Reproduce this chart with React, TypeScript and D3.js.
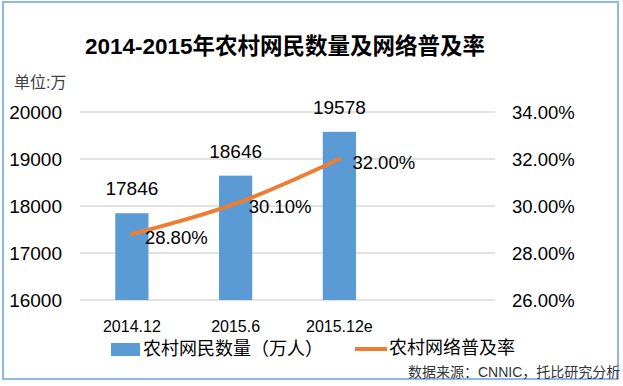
import React, { useRef, useEffect } from 'react';
import * as d3 from 'd3';

// 数据
const categories = ['2014.12', '2015.6', '2015.12e'];
const netizens = [17846, 18646, 19578]; // 万人
const penetration = [28.8, 30.1, 32.0]; // %
const leftTicks = [16000, 17000, 18000, 19000, 20000];
const rightTicks = [26, 28, 30, 32, 34];

const FONT = '"Liberation Sans", "Noto Sans CJK SC", sans-serif';
const BLUE = '#5b9bd5';
const ORANGE = '#ed7d31';

const App = () => {
    const svgRef = useRef<SVGSVGElement>(null);
    const width = 623;
    const height = 386;

    useEffect(() => {
        const svg = d3.select(svgRef.current)
            .attr('width', width)
            .attr('height', height);

        svg.selectAll('*').remove();

        const left = 80, right = 495, top = 112, bottom = 300;
        const step = (right - left) / 4;

        svg.append('rect')
            .attr('width', width).attr('height', height)
            .attr('fill', '#fff');

        // 外框
        svg.append('rect')
            .attr('x', 3).attr('y', 2)
            .attr('width', 615).attr('height', 377)
            .attr('fill', 'none')
            .attr('stroke', '#8db8e8')
            .attr('stroke-width', 2);

        // 标题
        svg.append('text')
            .attr('x', 285).attr('y', 46)
            .attr('text-anchor', 'middle')
            .attr('dominant-baseline', 'central')
            .attr('font-family', FONT)
            .attr('font-weight', 'bold')
            .attr('font-size', 22.5)
            .attr('fill', '#000')
            .text('2014-2015年农村网民数量及网络普及率');

        svg.append('text')
            .attr('x', 14).attr('y', 82)
            .attr('dominant-baseline', 'central')
            .attr('font-family', FONT)
            .attr('font-size', 16)
            .attr('fill', '#404040')
            .text('单位:万');

        const x = d3.scaleBand()
            .domain(categories)
            .range([left, left + step * 3])
            .paddingInner(0.68)
            .paddingOuter(0.34);

        const yLeft = d3.scaleLinear().domain([16000, 20000]).range([bottom, top]);
        const yRight = d3.scaleLinear().domain([26, 34]).range([bottom, top]);

        // 网格线
        svg.append('g')
            .selectAll('line')
            .data(leftTicks)
            .enter()
            .append('line')
            .attr('x1', left).attr('x2', right)
            .attr('y1', d => yLeft(d)).attr('y2', d => yLeft(d))
            .attr('stroke', '#d9d9d9')
            .attr('stroke-width', 1.5);

        // 左轴
        svg.append('g')
            .selectAll('text')
            .data(leftTicks)
            .enter()
            .append('text')
            .attr('x', 62)
            .attr('y', d => yLeft(d))
            .attr('text-anchor', 'end')
            .attr('dominant-baseline', 'central')
            .attr('font-family', FONT)
            .attr('font-size', 19)
            .attr('fill', '#000')
            .text(d => d);

        // 右轴
        svg.append('g')
            .selectAll('text')
            .data(rightTicks)
            .enter()
            .append('text')
            .attr('x', 512)
            .attr('y', d => yRight(d))
            .attr('dominant-baseline', 'central')
            .attr('font-family', FONT)
            .attr('font-size', 18.5)
            .attr('fill', '#000')
            .text(d => d.toFixed(2) + '%');

        // X轴标签
        svg.append('g')
            .selectAll('text')
            .data(categories)
            .enter()
            .append('text')
            .attr('x', d => x(d)! + x.bandwidth() / 2)
            .attr('y', 326)
            .attr('text-anchor', 'middle')
            .attr('dominant-baseline', 'central')
            .attr('font-family', FONT)
            .attr('font-size', 16)
            .attr('fill', '#000')
            .text(d => d);

        // 柱
        svg.append('g')
            .selectAll('rect')
            .data(netizens)
            .enter()
            .append('rect')
            .attr('x', (d, i) => x(categories[i])!)
            .attr('y', d => yLeft(d))
            .attr('width', x.bandwidth())
            .attr('height', d => bottom - yLeft(d))
            .attr('fill', BLUE);

        svg.append('g')
            .selectAll('text')
            .data(netizens)
            .enter()
            .append('text')
            .attr('x', (d, i) => x(categories[i])! + x.bandwidth() / 2)
            .attr('y', d => yLeft(d) - 18)
            .attr('text-anchor', 'middle')
            .attr('font-family', FONT)
            .attr('font-size', 19)
            .attr('fill', '#000')
            .text(d => d);

        // 折线
        const line = d3.line<number>()
            .x((d, i) => x(categories[i])! + x.bandwidth() / 2)
            .y(d => yRight(d))
            .curve(d3.curveCatmullRom.alpha(0.5));

        svg.append('path')
            .datum(penetration)
            .attr('d', line)
            .attr('fill', 'none')
            .attr('stroke', ORANGE)
            .attr('stroke-width', 4)
            .attr('stroke-linecap', 'round');

        svg.append('g')
            .selectAll('text')
            .data(penetration)
            .enter()
            .append('text')
            .attr('x', (d, i) => x(categories[i])! + x.bandwidth() / 2 + 13)
            .attr('y', d => yRight(d) + 3)
            .attr('dominant-baseline', 'central')
            .attr('font-family', FONT)
            .attr('font-size', 18.5)
            .attr('fill', '#000')
            .text(d => d.toFixed(2) + '%');

        // 图例
        const legend = svg.append('g');
        legend.append('rect')
            .attr('x', 111).attr('y', 343)
            .attr('width', 29).attr('height', 13)
            .attr('fill', BLUE);
        legend.append('text')
            .attr('x', 143).attr('y', 349)
            .attr('dominant-baseline', 'central')
            .attr('font-family', FONT)
            .attr('font-size', 18)
            .attr('fill', '#000')
            .text('农村网民数量（万人）');
        legend.append('line')
            .attr('x1', 355).attr('x2', 387)
            .attr('y1', 349).attr('y2', 349)
            .attr('stroke', ORANGE)
            .attr('stroke-width', 4);
        legend.append('text')
            .attr('x', 389).attr('y', 348)
            .attr('dominant-baseline', 'central')
            .attr('font-family', FONT)
            .attr('font-size', 18)
            .attr('fill', '#000')
            .text('农村网络普及率');

        // 来源
        svg.append('text')
            .attr('x', 408).attr('y', 372)
            .attr('dominant-baseline', 'central')
            .attr('font-family', FONT)
            .attr('font-size', 14)
            .attr('fill', '#333')
            .text('数据来源：CNNIC，托比研究分析');

    }, []);

    return (
        <svg ref={svgRef} style={{ position: 'absolute', left: 0, top: 0 }}></svg>
    );
};

export default App;
